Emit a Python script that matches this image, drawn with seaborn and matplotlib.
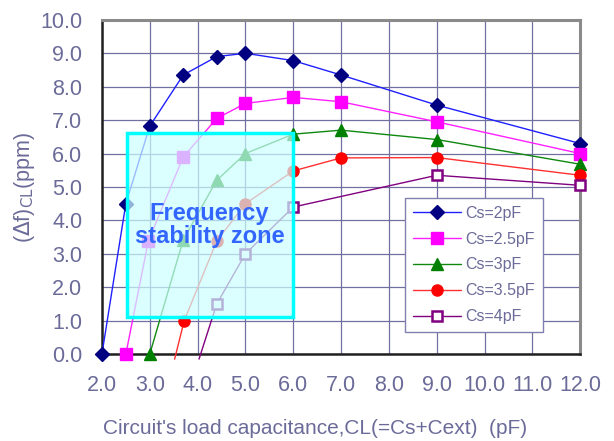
import matplotlib
matplotlib.use('Agg')
import matplotlib.pyplot as plt
import matplotlib.patches as patches
import pandas as pd
import seaborn as sns

# values
cs2_x = [2.0, 2.5, 3.0, 3.7, 4.4, 5.0, 6.0, 7.0, 9.0, 12.0]
cs2_y = [0.0, 4.5, 6.82, 8.35, 8.9, 9.0, 8.78, 8.35, 7.45, 6.3]
cs25_x = [2.5, 2.97, 3.7, 4.4, 5.0, 6.0, 7.0, 9.0, 12.0]
cs25_y = [0.0, 3.38, 5.9, 7.05, 7.5, 7.68, 7.55, 6.95, 6.0]
cs3_x = [3.0, 3.7, 4.4, 5.0, 6.0, 7.0, 9.0, 12.0]
cs3_y = [0.0, 3.42, 5.2, 6.0, 6.58, 6.7, 6.42, 5.68]
cs35_x = [3.52, 3.72, 4.4, 5.0, 6.0, 7.0, 9.0, 12.0]
cs35_y = [-0.15, 1.0, 3.38, 4.5, 5.48, 5.87, 5.88, 5.35]
cs4_x = [4.03, 4.4, 5.0, 6.0, 9.0, 12.0]
cs4_y = [-0.15, 1.5, 3.0, 4.4, 5.35, 5.05]

series_labels = ['Cs=2pF', 'Cs=2.5pF', 'Cs=3pF', 'Cs=3.5pF', 'Cs=4pF']
line_colors = ['#2020FF', '#FF20FF', '#108810', '#FF3030', '#800080']
marker_colors = ['#000080', '#FF00FF', '#008000', '#FF0000', '#800080']
marker_faces = ['#000080', '#FF00FF', '#008000', '#FF0000', 'white']
marker_styles = ['D', 's', '^', 'o', 's']
marker_sizes = [7, 8, 8, 8, 7]

sns.set_style('white')
plt.rcParams['font.family'] = ['Liberation Sans', 'DejaVu Sans']
text_color = '#6B6B99'

fig = plt.figure(figsize=(6.14, 4.41), dpi=100)
ax = fig.add_axes([0.166, 0.197, 0.779, 0.758])

all_x = [cs2_x, cs25_x, cs3_x, cs35_x, cs4_x]
all_y = [cs2_y, cs25_y, cs3_y, cs35_y, cs4_y]

for i in range(len(series_labels)):
    df = pd.DataFrame({'x': all_x[i], 'y': all_y[i]})
    # Punkte unter 0 sind nur fuer den Linienansatz, ohne Marker
    first = 1 if all_y[i][0] < 0 else 0
    sns.lineplot(x='x', y='y', data=df, ax=ax, color=line_colors[i],
                 linewidth=1.0, sort=False, estimator=None,
                 clip_on=False, zorder=3)
    ax.plot(all_x[i][first:], all_y[i][first:], linestyle='none',
            marker=marker_styles[i], markersize=marker_sizes[i],
            markerfacecolor=marker_faces[i], markeredgecolor=marker_colors[i],
            markeredgewidth=1.8 if i == 4 else 1.0, clip_on=False, zorder=4)

# Frequenzstabilitaetszone
zone = patches.Rectangle((2.52, 1.1), 6.0 - 2.52, 6.62 - 1.1,
                         facecolor='#CCFFFF', alpha=0.7, edgecolor='none', zorder=5)
ax.add_patch(zone)
zone_edge = patches.Rectangle((2.52, 1.1), 6.0 - 2.52, 6.62 - 1.1,
                              facecolor='none', edgecolor='#00FFFF', linewidth=2.5, zorder=6)
ax.add_patch(zone_edge)
ax.text(4.25, 3.85, 'Frequency\nstability zone', color='#3366FF', fontsize=17,
        fontweight='bold', ha='center', va='center', linespacing=1.0, zorder=7)

ax.set_xlim(2.0, 12.0)
ax.set_ylim(0.0, 10.0)
ax.set_xticks(range(2, 13))
ax.set_yticks(range(0, 11))
ax.set_xticklabels([f'{v:.1f}' for v in range(2, 13)])
ax.set_yticklabels([f'{v:.1f}' for v in range(0, 11)])
ax.grid(True, color='#7070A0', linewidth=0.9)
ax.set_axisbelow(True)
ax.tick_params(axis='both', labelsize=15.5, labelcolor=text_color, length=4,
               color='black', width=1.2)
ax.tick_params(axis='x', direction='in', pad=15)
ax.tick_params(axis='y', direction='out', length=2, pad=12)

for side in ['left', 'bottom']:
    ax.spines[side].set_color('#202020')
    ax.spines[side].set_linewidth(1.8)
for side in ['top', 'right']:
    ax.spines[side].set_color('#8A8A8A')
    ax.spines[side].set_linewidth(2.2)

ax.set_xlabel("Circuit's load capacitance,CL(=Cs+Cext)  (pF)", fontsize=15,
              color=text_color)
ax.xaxis.set_label_coords(0.446, -0.222)
ax.set_ylabel(r'($\Delta$f)$_{\mathrm{CL}}$(ppm)', fontsize=15.5, color=text_color)
ax.yaxis.set_label_coords(-0.161, 0.5)
ax.yaxis.label.set_va('center')
ax.xaxis.label.set_va('center')

# Legende manuell aufbauen
handles = []
for i in range(len(series_labels)):
    h, = ax.plot([], [], color=line_colors[i], linewidth=1.0, marker=marker_styles[i],
                 markersize=marker_sizes[i], markerfacecolor=marker_faces[i],
                 markeredgecolor=marker_colors[i], markeredgewidth=1.8 if i == 4 else 1.0)
    handles.append(h)
leg = ax.legend(handles, series_labels, loc='lower left', bbox_to_anchor=(0.617, 0.042),
                fontsize=11.5, frameon=True, fancybox=False, handlelength=3.0,
                labelspacing=0.68, borderpad=0.5, handletextpad=0.3, framealpha=1)
leg.get_frame().set_edgecolor('#8080B0')
leg.get_frame().set_linewidth(1.0)
leg.set_zorder(8)
for t in leg.get_texts():
    t.set_color(text_color)

plt.savefig('out.png', dpi=100)
